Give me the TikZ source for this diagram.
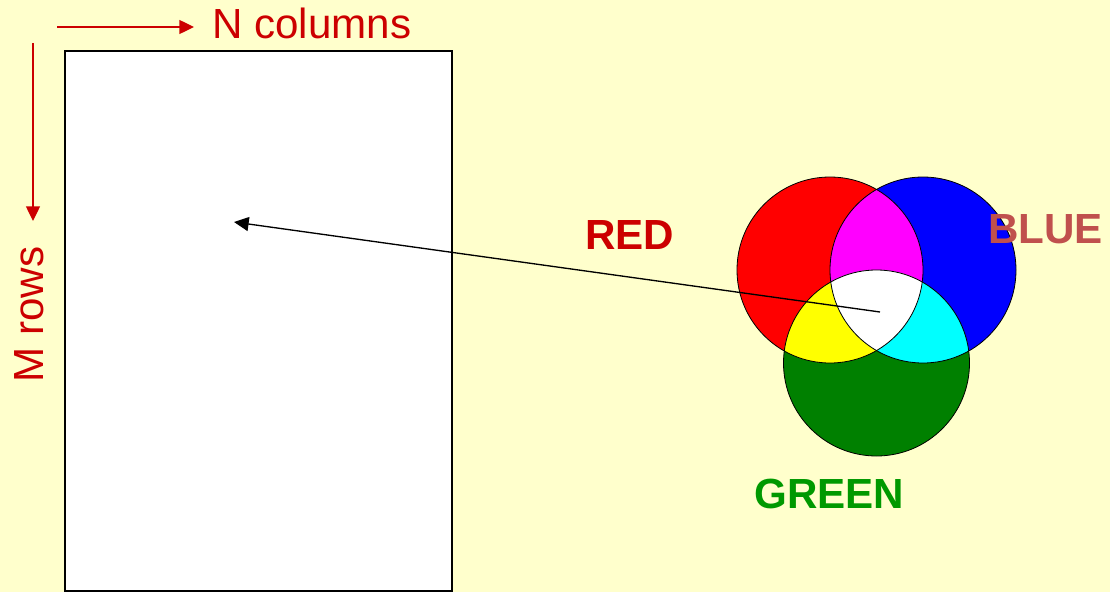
\documentclass[tikz,border=0pt]{standalone}
\usepackage{fontspec}
\setmainfont{Liberation Sans}
\usetikzlibrary{arrows.meta}

\definecolor{paper}{HTML}{FFFFCC}
\definecolor{labelred}{HTML}{CC0000}
\definecolor{labelblue}{HTML}{C0504D}
\definecolor{labelgreen}{HTML}{009900}
\definecolor{vennred}{HTML}{FF0000}
\definecolor{vennblue}{HTML}{0000FF}
\definecolor{venngreen}{HTML}{008000}
\definecolor{vennmagenta}{HTML}{FF00FF}
\definecolor{vennyellow}{HTML}{FFFF00}
\definecolor{venncyan}{HTML}{00FFFF}

\begin{document}
\begin{tikzpicture}[x=0.75pt,y=-0.75pt,
  axislabel/.style={text=labelred,inner sep=0pt,font=\fontsize{31.6}{36}\selectfont},
  colourlabel/.style={inner sep=0pt,font=\fontsize{31.6}{36}\selectfont\bfseries},
  axisarrow/.style={draw=labelred,line width=1pt,-{Triangle[length=11pt,width=10.5pt]}},
  pointer/.style={draw=black,line width=1pt,-{Triangle[length=11pt,width=10.5pt]}},
  outline/.style={draw=black,line width=0.6pt},
]
% page and image area
\fill[paper] (0,0) rectangle (1110,592);
\useasboundingbox (0,0) rectangle (1110,592);
\draw[fill=white,line width=1.2pt] (65,51) rectangle (452,591);

% axis directions
\coordinate (colstart) at (57,27);
\coordinate (colend) at (194,27);
\coordinate (rowstart) at (33,43);
\coordinate (rowend) at (33,221);
\draw[axisarrow] (colstart) -- (colend);
\draw[axisarrow] (rowstart) -- (rowend);
\node[axislabel,anchor=base west] (ncols) at (212,38.5) {N columns};
\node[axislabel,anchor=base west,rotate=90] (mrows) at (43.5,382.5) {M rows};

% additive colour circles
\coordinate (cr) at (830,270);
\coordinate (cb) at (923,270);
\coordinate (cg) at (876.5,363);
\def\rad{69.75pt}
\fill[vennred] (cr) circle[radius=\rad];
\fill[vennblue] (cb) circle[radius=\rad];
\fill[venngreen] (cg) circle[radius=\rad];
\begin{scope}
  \clip (cr) circle[radius=\rad];
  \fill[vennmagenta] (cb) circle[radius=\rad];
  \fill[vennyellow] (cg) circle[radius=\rad];
\end{scope}
\begin{scope}
  \clip (cb) circle[radius=\rad];
  \fill[venncyan] (cg) circle[radius=\rad];
  \clip (cg) circle[radius=\rad];
  \fill[white] (cr) circle[radius=\rad];
\end{scope}
\draw[outline] (cr) circle[radius=\rad];
\draw[outline] (cb) circle[radius=\rad];
\draw[outline] (cg) circle[radius=\rad];

% pixel pointer
\coordinate (mix) at (880,312);
\coordinate (pixel) at (234,222);
\draw[pointer] (mix) -- (pixel);

% colour names
\node[colourlabel,text=labelred,anchor=base west] (lred) at (585,249.5) {RED};
\node[colourlabel,text=labelblue,anchor=base west] (lblue) at (988,243.5) {BLUE};
\node[colourlabel,text=labelgreen,anchor=base west] (lgreen) at (754,508) {GREEN};
\end{tikzpicture}
\end{document}
